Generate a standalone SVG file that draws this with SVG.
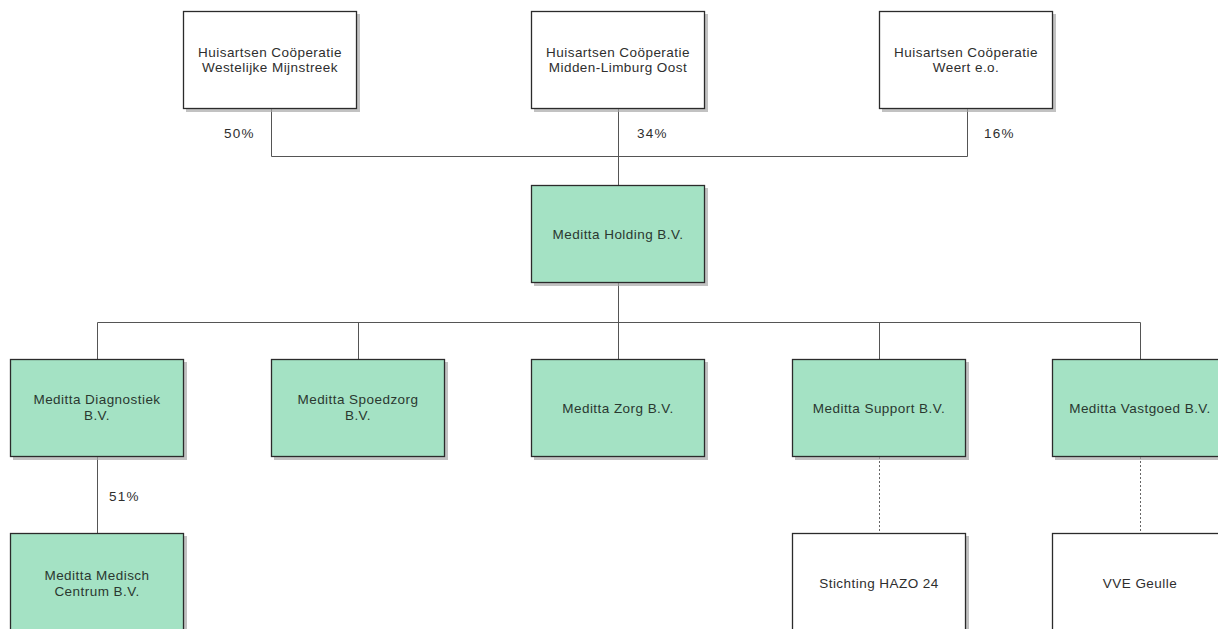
<svg xmlns="http://www.w3.org/2000/svg" width="1218" height="629" viewBox="0 0 1218 629">
<style>
.bx{stroke:#2b2b2b;stroke-width:1.3}
.w{fill:#ffffff}
.g{fill:#a4e2c4}
.sh{fill:#a8a8a8;opacity:0.7}
.t{font-family:"Liberation Sans",Arial,sans-serif;font-size:13.5px;letter-spacing:0.45px;fill:#2e2e2e;text-anchor:middle}
.gt{fill:#2a3830}
.p{font-family:"Liberation Sans",Arial,sans-serif;font-size:13.5px;letter-spacing:1.2px;fill:#2e2e2e}
.ln{stroke:#555;stroke-width:1;fill:none}
.dt{stroke:#666;stroke-width:1;fill:none;stroke-dasharray:2 2}
</style>
<rect width="1218" height="629" fill="#ffffff"/>
<g id="connectors">
<path class="ln" d="M271.5 109V156.5H967.5V109M618.5 109V185"/>
<path class="ln" d="M618.5 283V322.5M97.5 322.5H1140.5M97.5 322.5V359M358.5 322.5V359M618.5 322.5V359M879.5 322.5V359M1140.5 322.5V359"/>
<path class="ln" d="M97.5 457V533"/>
<path class="dt" d="M879.5 457V533M1140.5 457V533"/>
</g>
<g id="labels">
<text class="p" x="224" y="138">50%</text>
<text class="p" x="637" y="138">34%</text>
<text class="p" x="984" y="138">16%</text>
<text class="p" x="109" y="501">51%</text>
</g>
<g id="n1"><rect class="sh" x="186" y="14" width="174" height="98"/><rect class="bx w" x="183.5" y="11.5" width="173" height="97"/><text class="t" x="270" y="57">Huisartsen  Coöperatie</text><text class="t" x="270" y="72">Westelijke  Mijnstreek</text></g>
<g id="n2"><rect class="sh" x="534" y="14" width="174" height="98"/><rect class="bx w" x="531.5" y="11.5" width="173" height="97"/><text class="t" x="618" y="57">Huisartsen  Coöperatie</text><text class="t" x="618" y="72">Midden-Limburg  Oost</text></g>
<g id="n3"><rect class="sh" x="882" y="14" width="174" height="98"/><rect class="bx w" x="879.5" y="11.5" width="173" height="97"/><text class="t" x="966" y="57">Huisartsen  Coöperatie</text><text class="t" x="966" y="72">Weert e.o.</text></g>
<g id="n4"><rect class="sh" x="534" y="188" width="174" height="98"/><rect class="bx g" x="531.5" y="185.5" width="173" height="97"/><text class="t gt" x="618" y="239">Meditta Holding B.V.</text></g>
<g id="n5"><rect class="sh" x="13" y="362" width="174" height="98"/><rect class="bx g" x="10.5" y="359.5" width="173" height="97"/><text class="t gt" x="97" y="404">Meditta Diagnostiek</text><text class="t gt" x="97" y="420">B.V.</text></g>
<g id="n6"><rect class="sh" x="274" y="362" width="174" height="98"/><rect class="bx g" x="271.5" y="359.5" width="173" height="97"/><text class="t gt" x="358" y="404">Meditta Spoedzorg</text><text class="t gt" x="358" y="420">B.V.</text></g>
<g id="n7"><rect class="sh" x="534" y="362" width="174" height="98"/><rect class="bx g" x="531.5" y="359.5" width="173" height="97"/><text class="t gt" x="618" y="413">Meditta Zorg B.V.</text></g>
<g id="n8"><rect class="sh" x="795" y="362" width="174" height="98"/><rect class="bx g" x="792.5" y="359.5" width="173" height="97"/><text class="t gt" x="879" y="413">Meditta Support B.V.</text></g>
<g id="n9"><rect class="sh" x="1055" y="362" width="174" height="98"/><rect class="bx g" x="1052.5" y="359.5" width="173" height="97"/><text class="t gt" x="1140" y="413">Meditta Vastgoed B.V.</text></g>
<g id="n10"><rect class="sh" x="13" y="536" width="174" height="98"/><rect class="bx g" x="10.5" y="533.5" width="173" height="97"/><text class="t gt" x="97" y="580">Meditta Medisch</text><text class="t gt" x="97" y="596">Centrum  B.V.</text></g>
<g id="n11"><rect class="sh" x="795" y="536" width="174" height="98"/><rect class="bx w" x="792.5" y="533.5" width="173" height="97"/><text class="t" x="879" y="588">Stichting  HAZO 24</text></g>
<g id="n12"><rect class="sh" x="1055" y="536" width="174" height="98"/><rect class="bx w" x="1052.5" y="533.5" width="173" height="97"/><text class="t" x="1140" y="588">VVE Geulle</text></g>
</svg>
